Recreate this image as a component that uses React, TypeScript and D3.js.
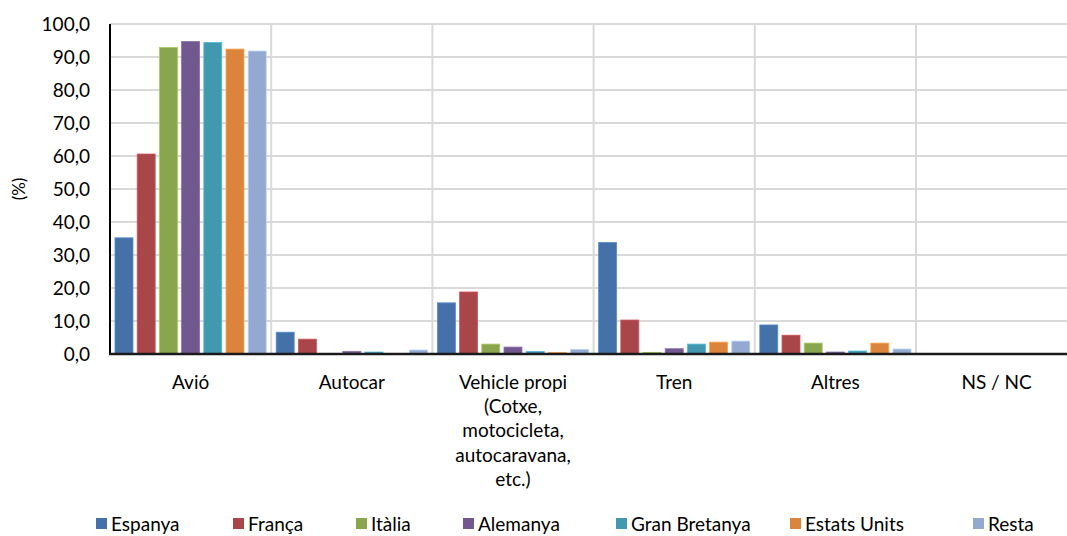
import * as d3 from "d3";
import { useEffect, useRef } from "react";

const categories = ["Avió", "Autocar", "Vehicle propi", "Tren", "Altres", "NS / NC"];
const categoryLines = [
  ["Avió"],
  ["Autocar"],
  ["Vehicle propi", "(Cotxe,", "motocicleta,", "autocaravana,", "etc.)"],
  ["Tren"],
  ["Altres"],
  ["NS / NC"],
];
const seriesNames = ["Espanya", "França", "Itàlia", "Alemanya", "Gran Bretanya", "Estats Units", "Resta"];
const seriesColors = ["#4471A7", "#A8464A", "#89A54E", "#71588F", "#4198AF", "#DB843D", "#93A9CF"];

// values per series, in category order
const espanya = [35.2, 6.6, 15.5, 33.8, 8.8, 0];
const franca = [60.6, 4.5, 18.8, 10.3, 5.7, 0];
const italia = [92.9, 0, 3.0, 0.5, 3.3, 0];
const alemanya = [94.7, 0.8, 2.1, 1.6, 0.6, 0];
const granBretanya = [94.4, 0.6, 0.8, 3.0, 0.9, 0];
const estatsUnits = [92.4, 0, 0.4, 3.6, 3.3, 0];
const resta = [91.8, 1.2, 1.4, 3.9, 1.5, 0];
const seriesValues = [espanya, franca, italia, alemanya, granBretanya, estatsUnits, resta];

const yTicks = [0, 10, 20, 30, 40, 50, 60, 70, 80, 90, 100];
const legendX = [96, 233, 356, 463, 616, 790, 973];

export default function App() {
  const ref = useRef<SVGSVGElement>(null);

  useEffect(() => {
    const svg = d3.select(ref.current);
    svg.selectAll("*").remove();

    const W = 1067,
      H = 536;
    const margin = { top: 24, left: 110, bottom: 182 };
    const plotW = 161.2 * 6;
    const font = "Lato, 'Open Sans', sans-serif";
    const fs = 19;

    const x = d3.scaleBand().domain(categories).range([margin.left, margin.left + plotW]).padding(0);
    const xi = d3
      .scaleBand()
      .domain(seriesNames)
      .range([5, x.bandwidth() - 5])
      .paddingInner(0.19)
      .paddingOuter(0);
    const y = d3.scaleLinear().domain([0, 100]).range([H - margin.bottom, margin.top]);

    const g = svg.append("g");

    // horizontal gridlines
    g.selectAll("line.h")
      .data(yTicks.slice(1))
      .enter()
      .append("line")
      .attr("x1", margin.left)
      .attr("x2", margin.left + plotW)
      .attr("y1", (d) => y(d))
      .attr("y2", (d) => y(d))
      .attr("stroke", "#D9D9D9")
      .attr("stroke-width", 2);

    // vertical gridlines between categories
    g.selectAll("line.v")
      .data(categories.slice(1))
      .enter()
      .append("line")
      .attr("x1", (d) => x(d) ?? 0)
      .attr("x2", (d) => x(d) ?? 0)
      .attr("y1", y(100))
      .attr("y2", y(0))
      .attr("stroke", "#D9D9D9")
      .attr("stroke-width", 2);

    // bars
    seriesNames.forEach((s, si) => {
      g.selectAll(`rect.s${si}`)
        .data(seriesValues[si].map((v, ci) => ({ c: categories[ci], v })))
        .enter()
        .append("rect")
        .filter((d) => d.v > 0)
        .attr("x", (d) => (x(d.c) ?? 0) + (xi(s) ?? 0))
        .attr("y", (d) => y(d.v))
        .attr("width", xi.bandwidth())
        .attr("height", (d) => y(0) - y(d.v))
        .attr("fill", seriesColors[si])
        .attr("stroke", d3.color(seriesColors[si])!.brighter(0.6).formatHex())
        .attr("stroke-width", 0.8);
    });

    // axes
    g.append("line")
      .attr("x1", margin.left)
      .attr("x2", margin.left)
      .attr("y1", y(100))
      .attr("y2", y(0))
      .attr("stroke", "#000")
      .attr("stroke-width", 2);
    g.append("line")
      .attr("x1", margin.left - 1)
      .attr("x2", margin.left + plotW)
      .attr("y1", y(0))
      .attr("y2", y(0))
      .attr("stroke", "#1a1a1a")
      .attr("stroke-width", 2.5);

    // y tick labels
    g.selectAll("text.yt")
      .data(yTicks)
      .enter()
      .append("text")
      .attr("x", 90)
      .attr("y", (d) => y(d))
      .attr("dy", "0.35em")
      .attr("text-anchor", "end")
      .attr("font-family", font)
      .attr("font-size", fs)
      .attr("fill", "#000")
      .text((d) => d.toFixed(1).replace(".", ","));

    // y title
    g.append("text")
      .attr("transform", `translate(25,${(y(0) + y(100)) / 2}) rotate(-90)`)
      .attr("text-anchor", "middle")
      .attr("font-family", font)
      .attr("font-size", 17)
      .attr("fill", "#000")
      .text("(%)");

    // x labels
    categories.forEach((c, ci) => {
      const t = g
        .append("text")
        .attr("x", (x(c) ?? 0) + x.bandwidth() / 2)
        .attr("y", 389)
        .attr("text-anchor", "middle")
        .attr("font-family", font)
        .attr("font-size", fs)
        .attr("fill", "#000");
      categoryLines[ci].forEach((line, li) => {
        t.append("tspan")
          .attr("x", (x(c) ?? 0) + x.bandwidth() / 2)
          .attr("dy", li === 0 ? 0 : 24.2)
          .text(line);
      });
    });

    // legend
    seriesNames.forEach((s, si) => {
      g.append("rect")
        .attr("x", legendX[si])
        .attr("y", 518)
        .attr("width", 11)
        .attr("height", 11)
        .attr("fill", seriesColors[si]);
      g.append("text")
        .attr("x", legendX[si] + 15)
        .attr("y", 524)
        .attr("dy", "0.35em")
        .attr("font-family", font)
        .attr("font-size", fs)
        .attr("fill", "#000")
        .text(s);
    });

    svg.attr("width", W).attr("height", H);
  }, []);

  return (
    <div style={{ position: "fixed", left: 0, top: 0, background: "#fff" }}>
      <svg ref={ref} width={1067} height={536} style={{ display: "block" }} />
    </div>
  );
}
